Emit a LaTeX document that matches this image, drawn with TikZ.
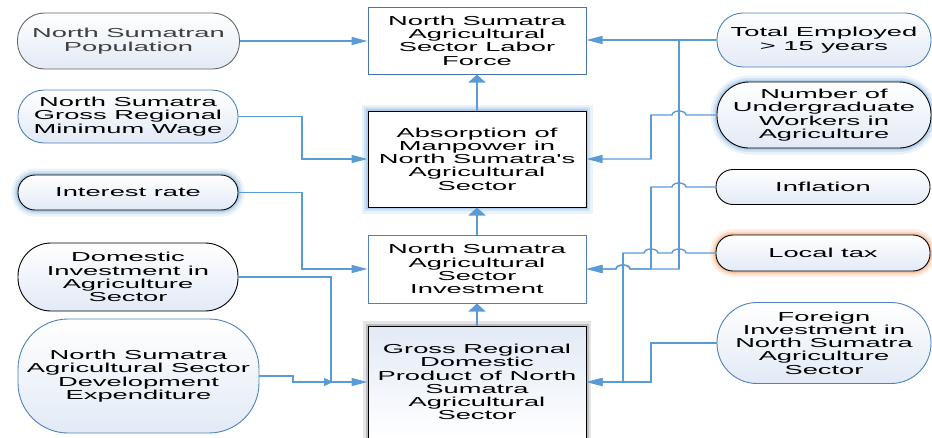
\documentclass[tikz,border=0pt]{standalone}
\usepackage{fontspec}
\newfontfamily\dfont[FakeStretch=2.1]{Liberation Sans}
\usetikzlibrary{arrows.meta}
\definecolor{conn}{RGB}{91,155,213}
\definecolor{bord}{RGB}{79,129,189}
\definecolor{glowb}{RGB}{157,195,230}
\definecolor{glowo}{RGB}{244,177,131}
\definecolor{fillb}{RGB}{226,234,246}
\begin{document}
\begin{tikzpicture}[x=1pt,y=-1pt,
  every node/.style={font=\dfont\fontsize{13}{13.3}\selectfont, align=center, inner sep=0pt},
  oval/.style={rounded corners=#1, draw, line width=0.9pt, top color=white, bottom color=fillb},
  box/.style={draw, line width=1pt, fill=white, minimum width=218pt},
  glowblue/.style={preaction={draw=glowb, line width=13pt, opacity=0.2},
                   preaction={draw=glowb, line width=8pt, opacity=0.35},
                   preaction={draw=glowb, line width=4pt, opacity=0.6}},
  gloworange/.style={preaction={draw=glowo, line width=12pt, opacity=0.2},
                   preaction={draw=glowo, line width=7pt, opacity=0.35},
                   preaction={draw=glowo, line width=3.5pt, opacity=0.6}},
  shadowgray/.style={preaction={draw=black!40, line width=10pt, opacity=0.25},
                   preaction={draw=black!50, line width=5pt, opacity=0.4}},
  conline/.style={draw=conn, line width=1.4pt},
  vthick/.style={draw=conn, line width=2.6pt},
  harr/.style={-{Triangle[length=16pt,width=8pt]}},
  sarr/.style={-{Triangle[length=9pt,width=8pt]}},
  varr/.style={-{Triangle[length=8pt,width=17pt]}}
]
\useasboundingbox (0,0) rectangle (932,437);
\clip (0,0) rectangle (932,437);

% left nodes
\node[oval=27pt, draw=black!60, minimum width=222pt, minimum height=56pt, text=black!75] (pop) at (128.5,41) {North Sumatran\\Population};
\node[oval=26pt, draw=bord, minimum width=220pt, minimum height=53pt] (wage) at (128,116.5) {North Sumatra\\Gross Regional\\Minimum Wage};
\node[oval=17pt, draw=black, glowblue, minimum width=220pt, minimum height=35pt] (rate) at (128,192.5) {Interest rate};
\node[oval=33pt, draw=black, minimum width=220pt, minimum height=68pt] (dom) at (128,277) {Domestic\\Investment in\\Agriculture\\Sector};
\node[oval=50pt, draw=bord, minimum width=241pt, minimum height=114pt] (exp) at (138.5,376) {North Sumatra\\Agricultural Sector\\Development\\Expenditure};

% center boxes
\node[box, draw=bord!90!black, minimum height=67pt] (A) at (477,40.5) {North Sumatra\\Agricultural\\Sector Labor\\Force};
\node[box, draw=black, glowblue, minimum height=96pt] (B) at (477,159) {Absorption of\\Manpower in\\North Sumatra's\\Agricultural\\Sector};
\node[box, draw=bord, minimum height=68pt] (C) at (477,269) {North Sumatra\\Agricultural\\Sector\\Investment};
\node[box, draw=black, shadowgray, top color=fillb, bottom color=white, minimum height=112pt] (D) at (477,382) {Gross Regional\\Domestic\\Product of North\\Sumatra\\Agricultural\\Sector};

% right nodes
\node[oval=26pt, draw=bord, minimum width=214pt, minimum height=54pt] (tot) at (824,40) {Total Employed\\> 15 years};
\node[oval=32pt, draw=black, glowblue, minimum width=214pt, minimum height=66pt] (und) at (824,115) {Number of\\Undergraduate\\Workers in\\Agriculture};
\node[oval=17pt, draw=black, minimum width=214pt, minimum height=35pt] (inf) at (823,187) {Inflation};
\node[oval=17pt, draw=black, gloworange, minimum width=214pt, minimum height=36pt] (tax) at (823,253) {Local tax};
\node[oval=40pt, draw=bord, minimum width=214pt, minimum height=81pt] (for) at (824,343) {Foreign\\Investment in\\North Sumatra\\Agriculture\\Sector};

\coordinate (j1) at (333,382);
\coordinate (j2) at (651,382);

% vertical arrows
\draw[conn, line width=2.5pt, varr] (B.north) -- (A.south);
\draw[conn, line width=2.5pt, varr] (C.north) -- (B.south);
\draw[conn, line width=2.5pt, varr] (D.north) -- (C.south);

% left connectors
\draw[conline, harr] (pop.east) -- (pop.east -| A.west);
\draw[conline, harr] (wage.east) -- (302,116.5) -- (302,159) -- (B.west);
\draw[conline, harr] (rate.east) -- (302,192.5) -- (302,269) -- (C.west);
\draw[conline, harr] (dom.east) -- (331,277) -- (331,382) -- (D.west |- j1);
\draw[conline, sarr] (exp.east) -- (293,376) -- (293,382) -- (j1);

% right connectors
\draw[conline, harr] (tot.west) -- (tot.west -| A.east);
\draw[conline, harr] (tot.west) -- (679,40) -- (679,269) -- (630,269)
   arc[start angle=0, end angle=180, x radius=7pt, y radius=4pt] -- (C.east);
\draw[conline, harr] (und.west) -- (686,115)
   arc[start angle=0, end angle=180, x radius=7pt, y radius=4pt] -- (651,115) -- (651,159) -- (B.east);
\draw[conline, harr] (inf.west) -- (686,187)
   arc[start angle=0, end angle=180, x radius=7pt, y radius=4pt] -- (651,187) -- (651,269) -- (630,269)
   arc[start angle=0, end angle=180, x radius=7pt, y radius=4pt] -- (C.east);
\draw[conline, harr] (tax.west) -- (686,253)
   arc[start angle=0, end angle=180, x radius=7pt, y radius=4pt] -- (658,253)
   arc[start angle=0, end angle=180, x radius=7pt, y radius=4pt] -- (623,253) -- (623,382) -- (D.east |- j2);
\draw[conline, harr] (for.west) -- (651,343) -- (j2) -- (D.east |- j2);

% vertical runs of the connectors are drawn heavier, as in the reference
\draw[vthick] (302,116.5) -- (302,159);
\draw[vthick] (302,192.5) -- (302,269);
\draw[vthick] (331,277) -- (331,382);
\draw[vthick] (293,376) -- (293,382);
\draw[vthick] (679,40) -- (679,269);
\draw[vthick] (651,115) -- (651,159);
\draw[vthick] (651,187) -- (651,269);
\draw[vthick] (623,253) -- (623,382);
\draw[vthick] (651,343) -- (651,382);
\end{tikzpicture}
\end{document}
